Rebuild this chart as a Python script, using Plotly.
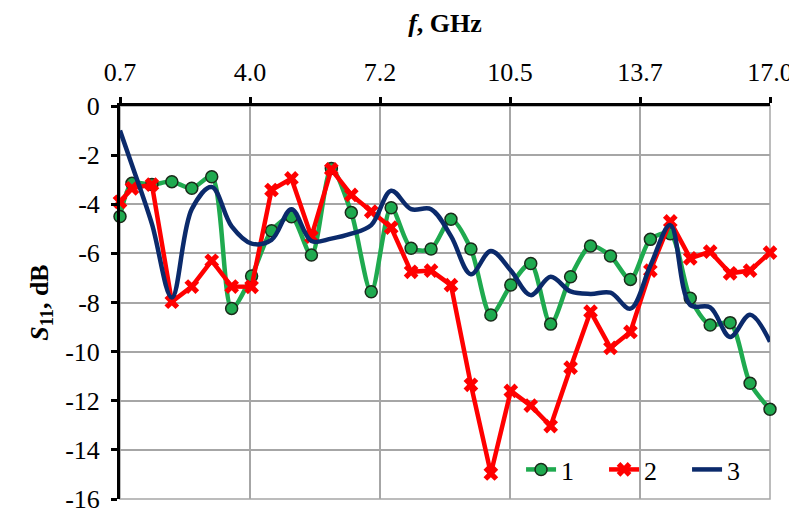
import numpy as np
import plotly.graph_objects as go

# frequency grid (GHz)
freq = [0.7, 1.0, 1.5, 2.0, 2.5, 3.0, 3.5, 4.0, 4.5, 5.0, 5.5, 6.0, 6.5, 7.0, 7.5,
        8.0, 8.5, 9.0, 9.5, 10.0, 10.5, 11.0, 11.5, 12.0, 12.5, 13.0, 13.5, 14.0,
        14.5, 15.0, 15.5, 16.0, 16.5, 17.0]

s11_1 = [-4.5, -3.15, -3.2, -3.08, -3.35, -2.88, -8.24, -6.92, -5.08, -4.51, -6.07,
         -2.54, -4.34, -7.56, -4.14, -5.79, -5.82, -4.61, -5.82, -8.51, -7.29, -6.41,
         -8.88, -6.95, -5.70, -6.11, -7.06, -5.43, -5.2, -7.83, -8.92, -8.82, -11.29,
         -12.35]

s11_2 = [-3.9, -3.35, -3.2, -7.97, -7.35, -6.3, -7.35, -7.36, -3.42, -2.95, -5.32,
         -2.58, -3.62, -4.3, -4.95, -6.75, -6.7, -7.29, -11.35, -14.96, -11.6, -12.2,
         -13.03, -10.65, -8.37, -9.85, -9.2, -6.7, -4.7, -6.2, -5.93, -6.81, -6.7,
         -5.97]

s11_3 = [-1.0, -2.4, -4.8, -7.8, -4.2, -3.3, -4.9, -5.6, -5.45, -4.2, -5.5, -5.4,
         -5.2, -4.85, -3.45, -4.2, -4.2, -5.3, -6.85, -5.9, -6.7, -7.7, -6.95, -7.55,
         -7.65, -7.6, -8.25, -6.5, -4.85, -8.1, -8.2, -9.4, -8.5, -9.6]

series_names = ["1", "2", "3"]
x_tick_text = ["0.7", "4.0", "7.2", "10.5", "13.7", "17.0"]
y_tick_vals = [0, -2, -4, -6, -8, -10, -12, -14, -16]
y_tick_text = ["0", "-2", "-4", "-6", "-8", "-10", "-12", "-14", "-16"]

FONT = "Liberation Serif"
GREEN = "#1FAA4F"
RED = "#FF0000"
NAVY = "#0B2A6B"
GRID = "#A6A6A6"
TICK_SIZE = 26
TITLE_SIZE = 26

fig = go.Figure()
fig.add_trace(go.Scatter(
    x=freq, y=s11_1, name=series_names[0], mode="lines+markers",
    line=dict(color=GREEN, width=4.5, shape="spline", smoothing=0.8),
    marker=dict(symbol="circle", size=12, color=GREEN,
                line=dict(color="#1a2a1a", width=1.5)),
    cliponaxis=False))
fig.add_trace(go.Scatter(
    x=freq, y=s11_2, name=series_names[1], mode="lines+markers",
    line=dict(color=RED, width=4.5),
    marker=dict(symbol="x", size=13, color=RED, line=dict(width=0)),
    cliponaxis=False))
fig.add_trace(go.Scatter(
    x=freq, y=s11_3, name=series_names[2], mode="lines",
    line=dict(color=NAVY, width=4.5, shape="spline", smoothing=1.0),
    cliponaxis=False))

# light frame on the open sides of the plot area (right / bottom)
fig.add_shape(type="rect", xref="x domain", yref="y domain", x0=0, x1=1, y0=0, y1=1,
              line=dict(color=GRID, width=1.5), layer="below")

fig.update_layout(
    width=797, height=513,
    margin=dict(l=112, r=35, t=98, b=22, autoexpand=False),
    paper_bgcolor="white", plot_bgcolor="white",
    font=dict(family=FONT, size=TICK_SIZE, color="black"),
    showlegend=True,
    legend=dict(orientation="h", x=0.617, xanchor="left", y=0.075, yanchor="middle",
                bgcolor="rgba(0,0,0,0)", font=dict(size=TICK_SIZE, family=FONT),
                itemwidth=30, entrywidth=38, entrywidthmode="pixels", tracegroupgap=0),
)

fig.update_xaxes(
    side="top", range=[0.7, 17.0], automargin=False,
    tickvals=list(np.linspace(0.7, 17.0, 6)), ticktext=x_tick_text,
    showline=True, linecolor="black", linewidth=3,
    ticks="outside", tickcolor="black", tickwidth=3, ticklen=6, ticklabelstandoff=6,
    showgrid=True, gridcolor=GRID, gridwidth=1.5, zeroline=False,
    tickfont=dict(size=TICK_SIZE, family=FONT),
    title=dict(text="<b><i>f</i>, GHz</b>", font=dict(size=TITLE_SIZE, family=FONT), standoff=18),
)
fig.update_yaxes(
    range=[-16, 0], automargin=False, tickvals=y_tick_vals, ticktext=y_tick_text,
    showline=True, linecolor="black", linewidth=3,
    ticks="outside", tickcolor="black", tickwidth=3, ticklen=6, ticklabelstandoff=6,
    showgrid=True, gridcolor=GRID, gridwidth=1.5, zeroline=False,
    tickfont=dict(size=TICK_SIZE, family=FONT),
    title=dict(text="<b><i>S</i><sub>11</sub>, dB</b>", font=dict(size=TITLE_SIZE, family=FONT), standoff=10),
)

fig.write_html("out.html")
